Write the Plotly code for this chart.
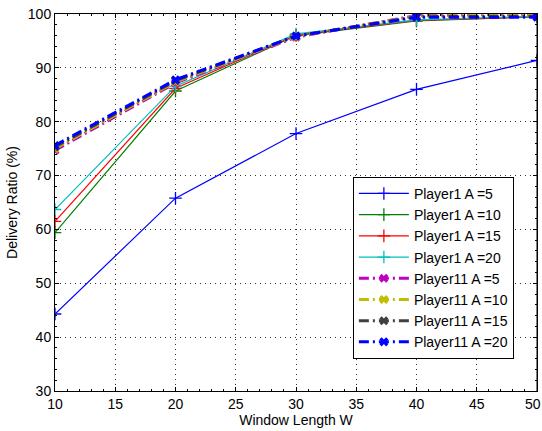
import plotly.graph_objects as go

W = [10, 20, 30, 40, 50]

p1_a5 = [44.3, 65.8, 77.8, 86.0, 91.4]
p1_a10 = [59.4, 85.7, 96.0, 98.7, 99.5]
p1_a15 = [61.5, 86.2, 96.1, 98.8, 99.5]
p1_a20 = [63.7, 86.6, 96.3, 98.9, 99.6]
p11_a5 = [74.7, 87.2, 95.7, 99.7, 100.0]
p11_a10 = [75.0, 87.4, 95.8, 99.6, 99.8]
p11_a15 = [75.3, 87.6, 95.9, 99.5, 99.6]
p11_a20 = [75.6, 87.8, 95.9, 99.4, 99.4]

y_ticks = [30, 40, 50, 60, 70, 80, 90, 100]
x_ticks = [10, 15, 20, 25, 30, 35, 40, 45, 50]

series = [
    ("Player1 A =5", p1_a5, "#0000FF", "solid", "cross-thin", 1.2),
    ("Player1 A =10", p1_a10, "#008000", "solid", "cross-thin", 1.2),
    ("Player1 A =15", p1_a15, "#FF0000", "solid", "cross-thin", 1.2),
    ("Player1 A =20", p1_a20, "#00BFBF", "solid", "cross-thin", 1.2),
    ("Player11 A =5", p11_a5, "#BF00BF", "10px,4px,2px,4px", "x", 3),
    ("Player11 A =10", p11_a10, "#BFBF00", "10px,4px,2px,4px", "x", 3),
    ("Player11 A =15", p11_a15, "#404040", "10px,4px,2px,4px", "x", 3),
    ("Player11 A =20", p11_a20, "#0000FF", "10px,4px,2px,4px", "x", 3),
]

fig = go.Figure()
for name, ys, col, dash, sym, lw in series:
    if sym == "cross-thin":
        marker = dict(symbol="cross-thin", size=9, line=dict(color=col, width=1.3), color=col)
    else:
        marker = dict(symbol="x", size=8, color=col, line=dict(width=0))
    fig.add_trace(go.Scatter(
        x=W, y=ys, name=name, mode="lines+markers",
        line=dict(color=col, width=lw, dash=dash),
        marker=marker,
    ))

fig.update_layout(
    width=542, height=431,
    margin=dict(l=55, r=5, t=14, b=40),
    paper_bgcolor="white", plot_bgcolor="white",
    font=dict(family="Liberation Sans, Arial, sans-serif", size=14, color="black"),
    showlegend=True,
    legend=dict(
        x=0.618, y=0.568, xanchor="left", yanchor="top",
        bordercolor="black", borderwidth=1, bgcolor="white",
        font=dict(size=14), itemwidth=50, tracegroupgap=0,
    ),
    annotations=[dict(
        x=50, xref="x", y=0, yref="paper", yanchor="top", yshift=-3, xshift=-4,
        text="50", showarrow=False, font=dict(size=14), xanchor="center",
    )],
)

grid = dict(showgrid=True, gridcolor="#333333", griddash="1px,4px", gridwidth=1)

fig.update_xaxes(
    range=[10, 50], tickvals=x_ticks[:-1], **grid,
    showline=True, linecolor="black", linewidth=1, mirror="ticks",
    ticks="inside", ticklen=4, tickcolor="black",
    minor=dict(ticks="inside", ticklen=2, dtick=1, tickcolor="black", showgrid=False),
    zeroline=False,
    title=dict(text="Window Length W", standoff=4, font=dict(size=14)),
)
fig.add_shape(type="line", xref="x", yref="paper", x0=50, x1=50, y0=0, y1=1,
              line=dict(color="black", width=1))
fig.update_yaxes(
    range=[30, 100], tickvals=y_ticks, **grid,
    showline=True, linecolor="black", linewidth=1, mirror="ticks",
    ticks="inside", ticklen=4, tickcolor="black",
    minor=dict(ticks="inside", ticklen=2, dtick=2, tickcolor="black", showgrid=False),
    zeroline=False,
    title=dict(text="Delivery Ratio (%)", standoff=6, font=dict(size=14)),
)

fig.write_html("out.html")
